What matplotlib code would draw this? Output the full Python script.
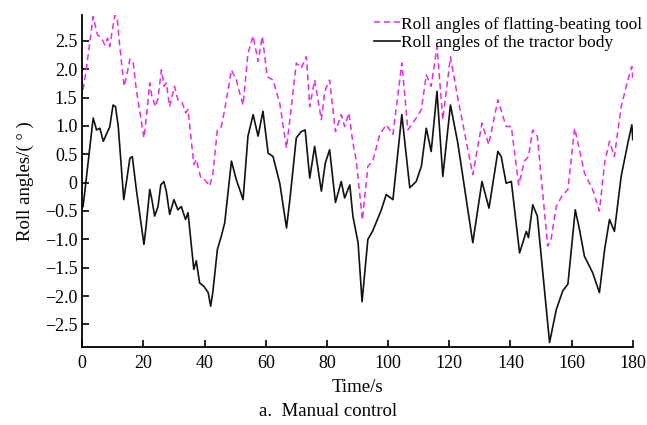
import numpy as np
import matplotlib
matplotlib.use("Agg")
import matplotlib.pyplot as plt
from matplotlib.ticker import FuncFormatter

plt.rcParams['font.family'] = ['Liberation Serif', 'DejaVu Serif']
plt.rcParams['font.size'] = 13

# Roll angle of the tractor body (solid black)
t_body = [0.3, 3.6, 4.7, 5.8, 6.9, 8.3, 9.0, 10.1, 10.9, 11.8, 13.6, 14.4, 15.6, 16.4,
          17.7, 20.2, 20.9, 22.1, 22.8, 23.7, 24.8, 25.7, 26.7, 27.5, 28.6, 30.0, 31.3,
          32.4, 33.8, 34.6, 36.5, 37.3, 38.4, 39.8, 41.2, 42.0, 42.7, 44.2, 45.5, 46.6,
          48.8, 50.4, 51.5, 52.6, 54.2, 55.9, 57.5, 59.1, 60.8, 62.4, 64.6, 66.8, 67.9,
          70.0, 71.6, 72.9, 74.4, 76.0, 78.2, 79.5, 80.9, 82.8, 84.7, 85.8, 87.5, 88.5,
          90.2, 91.5, 93.4, 95.0, 97.8, 99.4, 101.6, 104.5, 107.1, 109.2, 110.9, 112.5,
          114.1, 116.0, 117.9, 120.4, 122.8, 127.7, 130.7, 133.0, 135.9, 137.0, 138.6,
          140.3, 143.0, 145.2, 145.9, 147.3, 148.8, 152.8, 155.0, 157.1, 158.8, 161.2,
          162.6, 164.2, 166.9, 169.1, 170.8, 172.4, 174.0, 176.2, 178.4, 179.7, 180.0]
v_body = [-0.42, 1.14, 0.93, 0.96, 0.73, 0.90, 0.98, 1.37, 1.34, 0.99, -0.30, -0.01,
          0.43, 0.46, -0.12, -1.09, -0.77, -0.12, -0.30, -0.59, -0.42, -0.04, 0.02,
          -0.15, -0.56, -0.30, -0.48, -0.42, -0.65, -0.53, -1.53, -1.38, -1.77, -1.83,
          -1.94, -2.18, -1.94, -1.18, -0.94, -0.71, 0.38, 0.05, -0.12, -0.30, 0.82,
          1.20, 0.82, 1.26, 0.52, 0.46, -0.01, -0.80, -0.30, 0.79, 0.90, 0.93, 0.08,
          0.64, -0.15, 0.35, 0.58, -0.35, 0.02, -0.27, -0.04, -0.59, -1.06, -2.10,
          -1.00, -0.85, -0.48, -0.21, -0.30, 1.20, -0.09, 0.02, 0.29, 0.96, 0.55,
          1.61, 0.11, 1.37, 0.70, -1.06, 0.02, -0.45, 0.55, 0.46, -0.01, 0.02, -1.24,
          -0.86, -0.97, -0.39, -0.59, -2.82, -2.24, -1.91, -1.79, -0.48, -0.83, -1.30,
          -1.59, -1.94, -1.18, -0.65, -0.86, 0.11, 0.70, 1.02, 0.76]

# Roll angle of the flatting-beating tool (dashed magenta)
t_tool = [0.3, 1.4, 3.6, 5.0, 6.3, 7.4, 8.3, 9.0, 10.7, 11.5, 12.3, 13.7, 14.5, 15.6,
          16.7, 17.7, 20.2, 20.9, 22.1, 22.8, 24.0, 24.8, 25.9, 26.8, 27.5, 28.6, 30.2,
          31.3, 32.6, 33.8, 34.6, 36.5, 37.3, 38.8, 40.1, 41.7, 42.7, 44.2, 45.5, 46.6,
          48.8, 50.4, 51.5, 52.6, 54.2, 55.9, 57.5, 58.9, 60.5, 62.4, 64.6, 66.8, 67.9,
          70.0, 71.6, 73.3, 74.4, 76.0, 78.2, 79.3, 80.9, 82.8, 84.7, 85.8, 87.2, 88.5,
          89.6, 91.6, 93.4, 95.0, 97.3, 99.4, 101.6, 104.5, 106.5, 109.2, 110.9, 112.5,
          114.1, 116.0, 117.9, 120.4, 122.8, 127.7, 130.7, 132.9, 135.9, 138.6, 140.3,
          142.7, 144.6, 145.9, 147.3, 148.8, 152.2, 153.3, 155.0, 156.8, 158.8, 161.0,
          162.6, 164.2, 166.9, 169.1, 170.8, 172.4, 174.0, 176.2, 178.4, 179.7, 180.0]
v_tool = [1.64, 2.02, 2.93, 2.61, 2.55, 2.43, 2.55, 2.40, 2.96, 2.87, 2.40, 1.70, 1.87,
          2.18, 2.11, 1.64, 0.79, 1.11, 1.76, 1.52, 1.34, 1.49, 1.99, 1.70, 1.76, 1.34,
          1.70, 1.46, 1.43, 1.23, 1.29, 0.32, 0.41, 0.08, 0.05, -0.06, 0.15, 0.93, 0.99,
          1.29, 1.99, 1.81, 1.58, 1.37, 2.28, 2.59, 2.14, 2.58, 1.87, 1.81, 1.40, 0.61,
          1.11, 2.11, 2.02, 2.22, 1.34, 1.81, 1.11, 1.61, 1.81, 0.90, 1.20, 0.99, 1.23,
          0.70, 0.40, -0.66, 0.29, 0.38, 0.85, 1.02, 0.85, 2.11, 0.93, 1.14, 1.29, 1.90,
          1.70, 2.40, 1.11, 2.22, 1.49, 0.14, 1.05, 0.67, 1.46, 0.99, 0.99, -0.04, 0.38,
          0.46, 0.93, 0.82, -1.12, -1.00, -0.42, -0.24, -0.12, 0.96, 0.58, 0.17, -0.12,
          -0.50, 0.35, 0.73, 0.46, 1.34, 1.81, 2.05, 1.85]

x_ticks = [0, 20, 40, 60, 80, 100, 120, 140, 160, 180]
y_ticks = [-2.5, -2.0, -1.5, -1.0, -0.5, 0, 0.5, 1.0, 1.5, 2.0, 2.5]

fig = plt.figure(figsize=(6.47, 4.25), dpi=100)
ax = fig.add_axes([0.127, 0.1835, 0.851, 0.7815])

ax.plot(t_tool, v_tool, color='#e22ee2', linestyle=(0, (4, 2.5)), linewidth=1.1,
        label='Roll angles of flatting-beating tool')
ax.plot(t_body, v_body, color='#111111', linewidth=1.2,
        label='Roll angles of the tractor body')

ax.set_xlim(0, 180)
ax.set_ylim(-2.9, 2.96)
ax.set_xticks(x_ticks)
ax.set_yticks(y_ticks)
ax.yaxis.set_major_formatter(FuncFormatter(lambda v, p: '0' if v == 0 else f'{v:.1f}'.replace('-', '\u2212')))

for s in ['top', 'right']:
    ax.spines[s].set_visible(False)
for s in ['left', 'bottom']:
    ax.spines[s].set_linewidth(1.3)
ax.tick_params(direction='in', length=5, width=1.2, labelsize=13)
ax.tick_params(axis='x', pad=6)

ax.set_xlabel('Time/s', fontsize=13.5, labelpad=5)
ax.set_ylabel('Roll angles/( \u00b0 )', fontsize=13.5, labelpad=8)

fig.legend(loc='upper right', bbox_to_anchor=(1.012, 0.99), frameon=False,
           fontsize=12.5, handlelength=1.5, handletextpad=0.1, labelspacing=0.15,
           borderaxespad=0.3)

fig.text(0.507, 0.032, 'a.  Manual control', ha='center', va='center', fontsize=13.5)

fig.savefig('out.png', dpi=100)
